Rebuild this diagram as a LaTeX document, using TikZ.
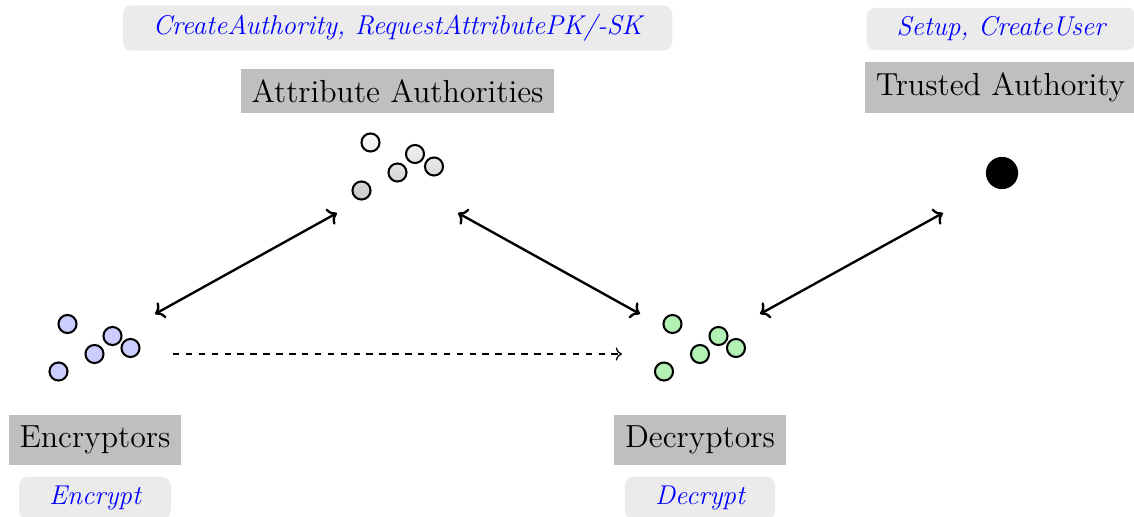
\documentclass[tikz,border=0pt]{standalone}
\usetikzlibrary{arrows.meta}
\definecolor{labelgray}{HTML}{BFBFBF}
\definecolor{taskgray}{HTML}{EBEBEB}
\definecolor{encfill}{HTML}{CCCCFF}
\definecolor{decfill}{HTML}{B3F0B3}
\begin{document}
\begin{tikzpicture}[x=0.4653pt,y=-0.4653pt,
  rolebox/.style={fill=labelgray, inner sep=5pt, font=\fontsize{14.85}{18}\selectfont},
  taskbox/.style={fill=taskgray, rounded corners=4pt, font=\fontsize{12.65}{15}\selectfont\itshape,
    text=blue, inner xsep=14pt, inner ysep=4.2pt},
  peer/.style={circle, draw=black, line width=0.95pt, minimum size=8.4pt, inner sep=0pt},
  encpeer/.style={peer, fill=encfill},
  decpeer/.style={peer, fill=decfill},
  link/.style={<->, line width=1.1pt},
  flow/.style={->, dashed, line width=0.6pt},
]
\useasboundingbox (0,0) rectangle (1134,517);

% attribute authorities
\node[taskbox] (aaTask) at (397.5,28) {CreateAuthority, RequestAttributePK/-SK};
\node[rolebox] (aaRole) at (397.5,91) {Attribute Authorities};
\node[peer, top color=gray!3, bottom color=gray!14] (aa1) at (370.5,142.5) {};
\node[peer, top color=gray!12, bottom color=gray!22] (aa2) at (415,154) {};
\node[peer, top color=gray!22, bottom color=gray!32] (aa3) at (397.5,172.5) {};
\node[peer, top color=gray!18, bottom color=gray!28] (aa4) at (434,166.5) {};
\node[peer, top color=gray!32, bottom color=gray!42] (aa5) at (361.5,190.5) {};

% trusted authority
\node[taskbox] (taTask) at (1001,29) {Setup, CreateUser};
\node[rolebox] (taRole) at (1000.5,87.5) {Trusted Authority};
\node[circle, fill=black, minimum size=15pt, inner sep=0pt] (ta) at (1002,173) {};

% encryptors
\node[encpeer] (enc1) at (67.5,324) {};
\node[encpeer] (enc2) at (112.5,336) {};
\node[encpeer] (enc3) at (94.5,354) {};
\node[encpeer] (enc4) at (130.5,348) {};
\node[encpeer] (enc5) at (58.5,371.5) {};
\node[rolebox] (encRole) at (95,440) {Encryptors};
\node[taskbox, minimum width=70pt] (encTask) at (95,498) {Encrypt};

% decryptors
\node[decpeer] (dec1) at (672.5,324) {};
\node[decpeer] (dec2) at (718.5,336) {};
\node[decpeer] (dec3) at (700,354) {};
\node[decpeer] (dec4) at (736,348) {};
\node[decpeer] (dec5) at (664,371.5) {};
\node[rolebox] (decRole) at (700,440) {Decryptors};
\node[taskbox, minimum width=70pt] (decTask) at (700,498) {Decrypt};

% connector ends
\coordinate (encNE) at (155,314);
\coordinate (aaSW) at (337,213);
\coordinate (aaSE) at (458,213);
\coordinate (decNW) at (640,314);
\coordinate (decNE) at (760,314);
\coordinate (taSW) at (943,213);
\coordinate (encE) at (173,354);
\coordinate (decW) at (622,354);

\draw[link] (encNE) -- (aaSW);
\draw[link] (aaSE) -- (decNW);
\draw[link] (decNE) -- (taSW);
\draw[flow] (encE) -- (decW);
\end{tikzpicture}
\end{document}
